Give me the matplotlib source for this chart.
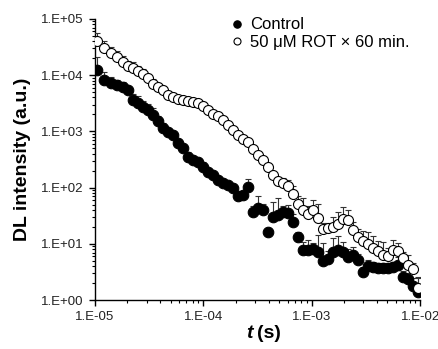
import numpy as np
import matplotlib.pyplot as plt
import matplotlib as mpl
from matplotlib.ticker import FuncFormatter, LogLocator

# --- data ---
t = [1.04e-5, 1.21e-5, 1.41e-5, 1.60e-5, 1.81e-5, 2.02e-5, 2.24e-5, 2.49e-5,
     2.77e-5, 3.09e-5, 3.43e-5, 3.82e-5, 4.25e-5, 4.72e-5, 5.25e-5, 5.84e-5,
     6.49e-5, 7.22e-5, 8.03e-5, 8.94e-5, 9.94e-5, 1.105e-4, 1.229e-4, 1.367e-4,
     1.520e-4, 1.691e-4, 1.880e-4, 2.091e-4, 2.326e-4, 2.586e-4, 2.877e-4, 3.200e-4,
     3.558e-4, 3.958e-4, 4.402e-4, 4.896e-4, 5.444e-4, 6.055e-4, 6.734e-4, 7.489e-4,
     8.330e-4, 9.265e-4, 1.030e-3, 1.146e-3, 1.274e-3, 1.417e-3, 1.576e-3, 1.753e-3,
     1.950e-3, 2.168e-3, 2.412e-3, 2.682e-3, 2.983e-3, 3.318e-3, 3.690e-3, 4.104e-3,
     4.564e-3, 5.076e-3, 5.646e-3, 6.279e-3, 6.983e-3, 7.766e-3, 8.637e-3, 9.605e-3]

control = [12400, 8220, 7270, 6690, 6170, 5450, 3620, 3200,
           2720, 2400, 1960, 1530, 1150, 975, 863, 622,
           507, 350, 310, 286, 233, 190, 168, 136,
           121, 111, 98.4, 71, 73, 102.6, 36.8, 43.4,
           39.9, 16.2, 30.0, 32.5, 36.8, 35.3, 24.4, 13.2,
           7.76, 7.76, 8.07, 7.14, 4.94, 5.37, 7.14, 7.76,
           7.14, 5.82, 6.32, 5.15, 3.15, 4.03, 3.86, 3.71,
           3.71, 3.71, 3.86, 4.20, 2.56, 2.37, 1.77, 1.39]
control_err = [8700, 3200, 2000, 1500, 1400, 970, 1000, 1060,
               760, 670, 650, 350, 260, 170, 150, 110,
               90, 80, 55, 51, 53, 34, 22, 24,
               22, 15, 18, 13, 13, 40, 10, 28,
               11, 2.9, 25, 33, 10, 14, 9.5, 3.0,
               3.0, 3.9, 2.3, 7.2, 5.4, 2.1, 5.5, 6.0,
               3.6, 2.3, 2.5, 1.4, 0.7, 1.1, 0.9, 0.84,
               0.84, 0.84, 0.88, 1.6, 0.7, 0.66, 0.69, 1.08]

rot = [40600, 30500, 24800, 21100, 17200, 14600, 13400, 11900,
       10500, 8910, 6970, 6170, 5450, 4440, 4090, 3770,
       3620, 3480, 3340, 3200, 2830, 2400, 2040, 1880,
       1600, 1300, 1060, 863, 733, 648, 486, 380,
       310, 233, 168, 131, 121, 107, 76.9, 51.1,
       39.9, 33.9, 39.9, 28.8, 18.3, 19.1, 19.9, 22.5,
       27.6, 26.5, 17.6, 13.2, 11.2, 9.91, 8.41, 7.45,
       6.32, 6.07, 7.76, 7.45, 5.58, 4.20, 3.56, 1.64]
rot_err = [15800, 10100, 6900, 5900, 4800, 3300, 3700, 2700,
           2400, 1600, 1600, 1100, 970, 790, 730, 490,
           470, 460, 440, 420, 500, 310, 270, 250,
           210, 170, 140, 110, 96, 85, 64, 50,
           41, 41, 22, 17, 27, 30, 30, 20,
           25, 13, 20, 22, 5.1, 4.3, 10, 14,
           17.5, 13.4, 6.8, 5.1, 5.7, 6.3, 5.3, 3.8,
           4.4, 2.4, 3.9, 2.9, 1.6, 2.1, 1.0, 0.93]

labels = ['Control', '50 \u03bcM ROT \u00d7 60 min.']

# --- plot ---
mpl.rcParams['font.family'] = 'Liberation Sans'
mpl.rcParams['axes.linewidth'] = 1.0

fig = plt.figure(figsize=(4.39, 3.49), dpi=100)
ax = fig.add_axes([0.216, 0.140, 0.741, 0.806])

zeros = [0] * len(t)
ax.errorbar(t, control, yerr=[zeros, control_err], fmt='none', ecolor='#333333',
            elinewidth=0.8, capsize=2.2, capthick=0.8, zorder=2)
ax.plot(t, control, 'o', ms=7.6, mfc='black', mec='black', mew=0.8,
        label=labels[0], zorder=3)
ax.errorbar(t, rot, yerr=[zeros, rot_err], fmt='none', ecolor='#333333',
            elinewidth=0.8, capsize=2.2, capthick=0.8, zorder=4)
ax.plot(t, rot, 'o', ms=7.2, mfc='white', mec='black', mew=0.8,
        label=labels[1], zorder=5)

ax.set_xscale('log')
ax.set_yscale('log')
ax.set_xlim(1e-5, 1e-2)
ax.set_ylim(1, 1e5)

def excel_fmt(x, pos):
    e = int(round(np.log10(x)))
    return f'1.E{e:+03d}'

ax.xaxis.set_major_formatter(FuncFormatter(excel_fmt))
ax.yaxis.set_major_formatter(FuncFormatter(excel_fmt))
ax.xaxis.set_minor_locator(LogLocator(base=10, subs=np.arange(2, 10)))
ax.yaxis.set_minor_locator(LogLocator(base=10, subs=np.arange(2, 10)))
ax.xaxis.set_minor_formatter(plt.NullFormatter())
ax.yaxis.set_minor_formatter(plt.NullFormatter())

ax.tick_params(which='major', direction='out', length=4, width=1.0,
               labelsize=9.5, colors='black', labelcolor='#222222', pad=4)
ax.tick_params(which='minor', direction='out', length=2.2, width=0.8)

ax.spines['top'].set_visible(False)
ax.spines['right'].set_visible(False)

ax.set_ylabel('DL intensity (a.u.)', fontsize=14, fontweight='bold', labelpad=7)
ax.text(0.485, -0.117, 't', transform=ax.transAxes, fontsize=14,
        fontweight='bold', fontstyle='italic', ha='right', va='center')
ax.text(0.5, -0.117, '(s)', transform=ax.transAxes, fontsize=14,
        fontweight='bold', ha='left', va='center')

ax.legend(loc='upper left', bbox_to_anchor=(0.41, 1.005), frameon=False,
          fontsize=12, handlelength=1.0, handletextpad=0.3, borderpad=0,
          borderaxespad=0, labelspacing=0.15, markerscale=0.7)

fig.savefig('out.png', dpi=100)
